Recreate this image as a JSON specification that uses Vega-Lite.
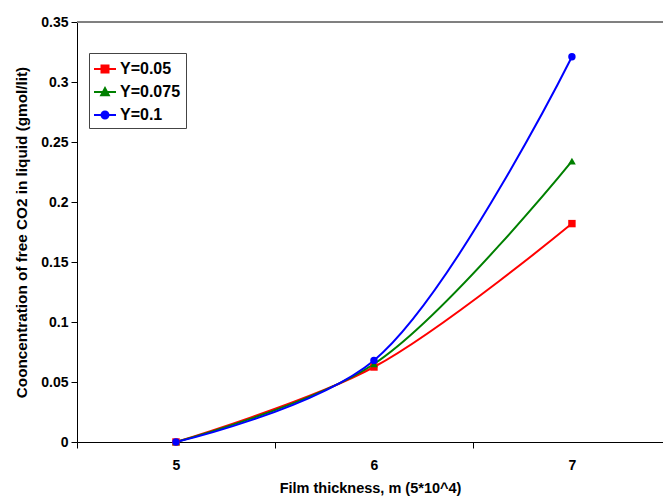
{
  "$schema": "https://vega.github.io/schema/vega-lite/v6.json",
  "width": 586,
  "height": 420,
  "autosize": "none",
  "padding": {"left": 77, "top": 22, "right": 0, "bottom": 56},
  "background": "white",
  "config": {
    "view": {"stroke": null},
    "font": "Liberation Sans",
    "axis": {
      "labelFont": "Liberation Sans",
      "titleFont": "Liberation Sans",
      "labelFontWeight": "bold",
      "titleFontWeight": "bold",
      "labelFontSize": 14,
      "titleFontSize": 14,
      "labelColor": "black",
      "titleColor": "black",
      "domainColor": "black",
      "tickColor": "black",
      "grid": false
    }
  },
  "data": {
    "values": [
      {"series": "Y=0.05", "x": 5, "y": 0},
      {"series": "Y=0.05", "x": 6, "y": 0.0625},
      {"series": "Y=0.05", "x": 7, "y": 0.182},
      {"series": "Y=0.075", "x": 5, "y": 0},
      {"series": "Y=0.075", "x": 6, "y": 0.065},
      {"series": "Y=0.075", "x": 7, "y": 0.234},
      {"series": "Y=0.1", "x": 5, "y": 0},
      {"series": "Y=0.1", "x": 6, "y": 0.068},
      {"series": "Y=0.1", "x": 7, "y": 0.321}
    ]
  },
  "layer": [
    {
      "mark": {"type": "rule", "color": "#808080", "strokeWidth": 1},
      "encoding": {"y": {"datum": 0.35, "type": "quantitative"}}
    },
    {
      "mark": {"type": "line", "interpolate": "catmull-rom", "strokeWidth": 2},
      "encoding": {
        "x": {
          "field": "x", "type": "quantitative",
          "scale": {"domain": [4.5, 7.46], "nice": false, "zero": false},
          "axis": {
            "title": "Film thickness, m (5*10^4)",
            "titleFontSize": 14.5,
            "values": [4.5, 5, 5.5, 6, 6.5, 7],
            "labelExpr": "datum.value % 1 == 0 ? datum.value : ''",
            "tickOpacity": {"condition": {"test": "datum.value % 1 != 0", "value": 1}, "value": 0},
            "tickSize": 6,
            "labelPadding": 10,
            "titlePadding": 9,
            "labelFlush": false
          }
        },
        "y": {
          "field": "y", "type": "quantitative",
          "scale": {"domain": [0, 0.35], "nice": false},
          "axis": {
            "title": "Cooncentration of free CO2 in liquid (gmol/lit)",
            "titleFontSize": 15.3,
            "values": [0, 0.05, 0.1, 0.15, 0.2, 0.25, 0.3, 0.35],
            "labelExpr": "datum.value == 0 ? '0' : format(datum.value, '.2~f')",
            "tickSize": 6,
            "labelPadding": 3,
            "titlePadding": 11
          }
        },
        "color": {
          "field": "series", "type": "nominal",
          "scale": {"domain": ["Y=0.05", "Y=0.075", "Y=0.1"], "range": ["#ff0000", "#008000", "#0000ff"]},
          "legend": {
            "title": null,
            "orient": "none",
            "legendX": 12,
            "legendY": 31,
            "strokeColor": "#444444",
            "fillColor": "white",
            "padding": 5,
            "labelFont": "Liberation Sans",
            "labelFontWeight": "bold",
            "labelFontSize": 16,
            "labelColor": "black",
            "labelOffset": 4,
            "rowPadding": 4,
            "symbolSize": 400,
            "encode": {
              "symbols": {
                "update": {
                  "shape": {"signal": "datum.value === 'Y=0.05' ? 'M-1.1,0H1.1M-0.35,-0.35H0.35V0.35H-0.35Z' : datum.value === 'Y=0.075' ? 'M-1.1,0H1.1M-0.38,0.32L0,-0.38L0.38,0.32Z' : 'M-1.1,0H1.1M-0.35,0A0.35,0.35 0 1,0 0.35,0A0.35,0.35 0 1,0 -0.35,0Z'"},
                  "fill": {"signal": "scale('color', datum.value)"},
                  "stroke": {"signal": "scale('color', datum.value)"},
                  "strokeWidth": {"value": 2},
                  "fillOpacity": {"value": 1},
                  "opacity": {"value": 1}
                }
              }
            }
          }
        }
      }
    },
    {
      "transform": [{"filter": "datum.series === 'Y=0.05'"}],
      "mark": {"type": "point", "filled": true, "opacity": 1, "shape": "square", "size": 55},
      "encoding": {
        "x": {"field": "x", "type": "quantitative"},
        "y": {"field": "y", "type": "quantitative"},
        "color": {"field": "series", "type": "nominal", "legend": null}
      }
    },
    {
      "transform": [{"filter": "datum.series === 'Y=0.075'"}],
      "mark": {"type": "point", "filled": true, "opacity": 1, "shape": "triangle-up", "size": 60},
      "encoding": {
        "x": {"field": "x", "type": "quantitative"},
        "y": {"field": "y", "type": "quantitative"},
        "color": {"field": "series", "type": "nominal", "legend": null}
      }
    },
    {
      "transform": [{"filter": "datum.series === 'Y=0.1'"}],
      "mark": {"type": "point", "filled": true, "opacity": 1, "shape": "circle", "size": 55},
      "encoding": {
        "x": {"field": "x", "type": "quantitative"},
        "y": {"field": "y", "type": "quantitative"},
        "color": {"field": "series", "type": "nominal", "legend": null}
      }
    }
  ]
}
